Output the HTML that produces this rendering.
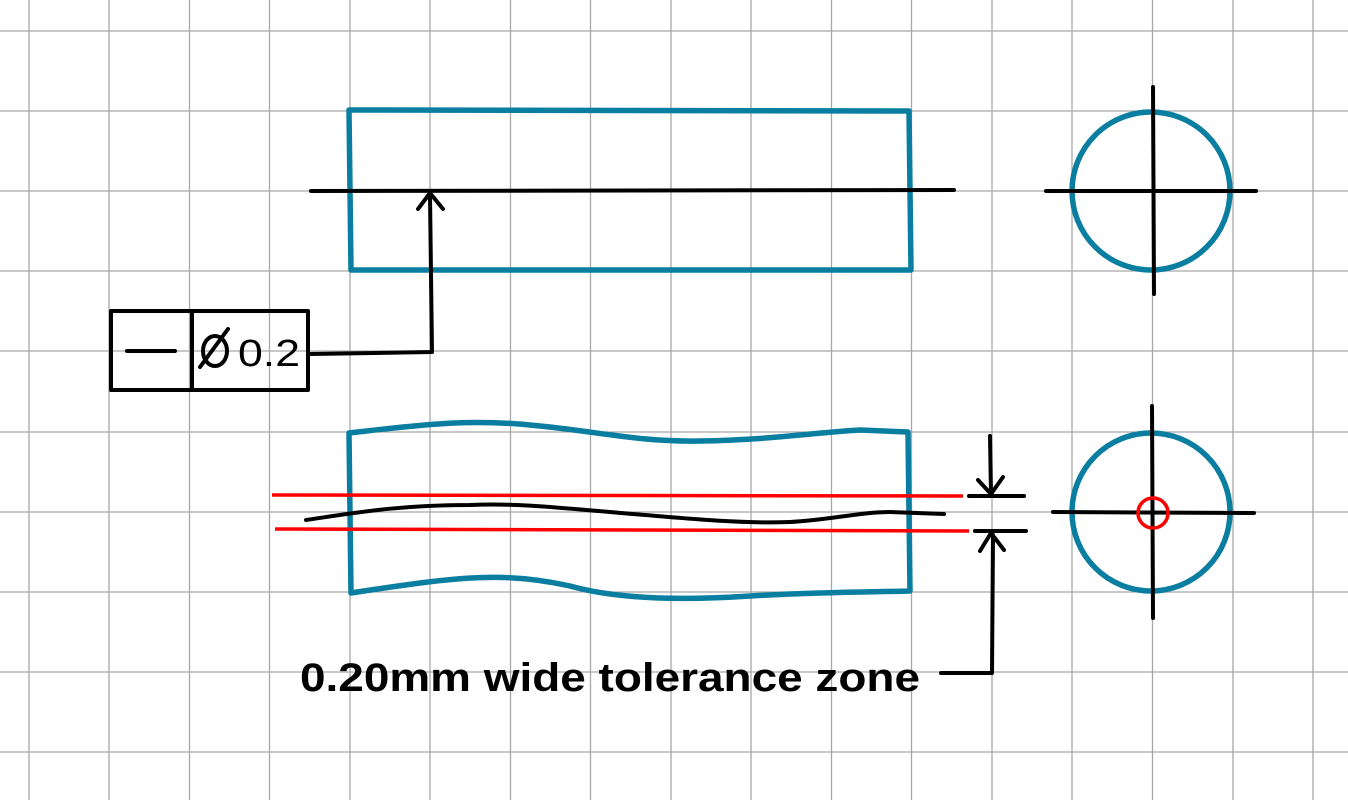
<!DOCTYPE html>
<html><head><style>html,body{margin:0;padding:0;background:#fff}svg{display:block}</style></head>
<body>
<svg width="1348" height="800" viewBox="0 0 1348 800" xmlns="http://www.w3.org/2000/svg">
<g stroke="#a8a8a8" stroke-width="1.3">
<line x1="29" y1="0" x2="29" y2="800"/><line x1="109" y1="0" x2="109" y2="800"/><line x1="189.5" y1="0" x2="189.5" y2="800"/><line x1="269.5" y1="0" x2="269.5" y2="800"/><line x1="350" y1="0" x2="350" y2="800"/><line x1="430" y1="0" x2="430" y2="800"/><line x1="510.5" y1="0" x2="510.5" y2="800"/><line x1="590.5" y1="0" x2="590.5" y2="800"/><line x1="671" y1="0" x2="671" y2="800"/><line x1="751" y1="0" x2="751" y2="800"/><line x1="831.5" y1="0" x2="831.5" y2="800"/><line x1="911.5" y1="0" x2="911.5" y2="800"/><line x1="992" y1="0" x2="992" y2="800"/><line x1="1072" y1="0" x2="1072" y2="800"/><line x1="1152.5" y1="0" x2="1152.5" y2="800"/><line x1="1233" y1="0" x2="1233" y2="800"/><line x1="1313" y1="0" x2="1313" y2="800"/>
<line y1="31" x1="0" y2="31" x2="1348"/><line y1="111" x1="0" y2="111" x2="1348"/><line y1="191" x1="0" y2="191" x2="1348"/><line y1="271" x1="0" y2="271" x2="1348"/><line y1="351" x1="0" y2="351" x2="1348"/><line y1="432" x1="0" y2="432" x2="1348"/><line y1="512" x1="0" y2="512" x2="1348"/><line y1="592" x1="0" y2="592" x2="1348"/><line y1="672" x1="0" y2="672" x2="1348"/><line y1="752" x1="0" y2="752" x2="1348"/>
</g>
<g fill="none" stroke="#0a7ea0" stroke-width="5.5" stroke-linejoin="round">
<path d="M349,110 L909,111 L911,270 L351,270 Z"/>
<circle cx="1151" cy="191" r="79"/>
<path d="M349,433 C420,425 470,418 540,426 C600,432 640,442 700,441 C770,440 820,432 860,430 L908,432 L910,591 C870,592 820,592 750,596 C690,600 620,600 570,586 C520,575 480,575 420,583 C390,587 370,590 351,593 Z"/>
<circle cx="1151" cy="512" r="79"/>
</g>
<g fill="none" stroke="#000" stroke-width="4" stroke-linecap="round" stroke-linejoin="round">
<line x1="311" y1="191" x2="954" y2="190"/>
<line x1="1046" y1="191" x2="1256" y2="191"/>
<line x1="1153" y1="87" x2="1154" y2="294"/>
<path d="M430,196 L432,352 L310,354"/>
<path d="M418,209 L430,193 L443,209"/>
<rect x="111" y="311" width="197" height="79"/>
<line x1="192" y1="311" x2="192" y2="390"/>
<line x1="127" y1="351" x2="175" y2="351"/>
<line x1="200" y1="367" x2="228" y2="329"/>
<path d="M306,520 C360,512 400,505 470,505 C520,503 560,508 610,512 C680,518 740,524 790,522 C830,520 860,512 890,512 L944,514"/>
<line x1="1053" y1="512" x2="1254" y2="513"/>
<line x1="1152" y1="406" x2="1153" y2="618"/>
<line x1="990" y1="436" x2="991" y2="494"/>
<path d="M978,480 L991,494 L1003,477"/>
<line x1="969" y1="496" x2="1024" y2="496"/>
<line x1="975" y1="531" x2="1026" y2="531"/>
<path d="M980,551 L991,533 L1004,550"/>
<path d="M993,535 L992,673 L941,673"/>
</g>
<g stroke="#ff0000" stroke-width="3.5" fill="none">
<line x1="272" y1="495" x2="963" y2="496"/>
<line x1="275" y1="529" x2="969" y2="531"/>
<circle cx="1153" cy="513" r="15"/>
</g>
<ellipse cx="215" cy="351" rx="12" ry="15" fill="none" stroke="#000" stroke-width="4"/>
<text x="238" y="366" font-family="Liberation Sans, sans-serif" font-size="38" fill="#000" textLength="62" lengthAdjust="spacingAndGlyphs">0.2</text>
<text x="300" y="691" font-family="Liberation Sans, sans-serif" font-size="40" font-weight="bold" fill="#000" textLength="620" lengthAdjust="spacingAndGlyphs">0.20mm wide tolerance zone</text>
</svg>
</body></html>
